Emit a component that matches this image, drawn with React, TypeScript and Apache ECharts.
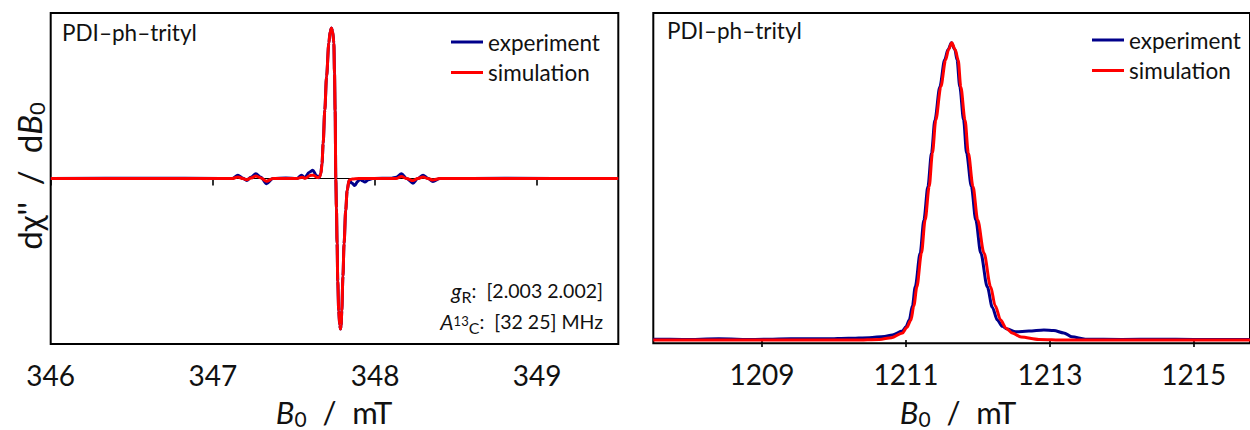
import React, { useEffect, useRef } from "react";
import * as echarts from "echarts";

const FONT = 'Lato, "DejaVu Sans", sans-serif';

const leftTicks = [346, 347, 348, 349];
const rightTicks = [1209, 1211, 1213, 1215];
const seriesNames = ["experiment", "simulation"];
const sampleName = "PDI–ph–trityl";

const leftExperiment: number[][] = [
  [346.0, 0], [346.6, 0.002], [347.05, 0], [347.12, 0], [347.154, 0.022], [347.185, 0.002],
  [347.209, -0.013], [347.234, 0.008], [347.265, 0.031], [347.296, 0.008], [347.331, -0.035],
  [347.37, 0], [347.45, 0.003], [347.518, 0], [347.547, 0.022], [347.567, 0.004], [347.592, 0.04],
  [347.617, 0.055], [347.638, 0.02], [347.653, 0.005], [347.665, 0.03], [347.673, 0.1],
  [347.68, 0.233], [347.69, 0.453], [347.701, 0.676], [347.715, 0.9], [347.723, 0.975],
  [347.731, 1.0], [347.739, 0.975], [347.746, 0.9], [347.75, 0.7], [347.754, 0.45],
  [347.758, 0.0], [347.762, -0.2], [347.766, -0.433], [347.77, -0.68], [347.776, -0.88],
  [347.782, -0.975], [347.787, -1.0], [347.791, -0.975], [347.795, -0.88], [347.802, -0.65],
  [347.809, -0.433], [347.819, -0.213], [347.828, -0.08], [347.84, -0.013], [347.857, -0.03],
  [347.875, -0.047], [347.892, -0.02], [347.906, -0.004], [347.922, -0.015], [347.937, -0.024],
  [347.96, -0.008], [347.986, 0], [348.103, 0.002], [348.13, 0.008], [348.163, 0.031],
  [348.195, 0.0], [348.234, -0.031], [348.263, 0.0], [348.296, 0.022], [348.325, 0.002],
  [348.357, -0.02], [348.399, 0], [348.8, 0.001], [349.5, 0],
];

const leftSimulation: number[][] = [
  [346.0, 0], [347.12, 0], [347.154, 0.01], [347.185, 0.0], [347.209, -0.008], [347.234, 0.003],
  [347.265, 0.016], [347.296, 0.004], [347.331, -0.018], [347.37, 0], [347.518, 0],
  [347.55, 0.008], [347.57, 0.002], [347.6, 0.02], [347.62, 0.022], [347.645, 0.006],
  [347.658, 0.01], [347.667, 0.035], [347.673, 0.1], [347.68, 0.233], [347.69, 0.453],
  [347.701, 0.676], [347.715, 0.9], [347.723, 0.975], [347.731, 1.0], [347.739, 0.975],
  [347.746, 0.9], [347.75, 0.7], [347.754, 0.45], [347.758, 0.0], [347.762, -0.2],
  [347.766, -0.433], [347.77, -0.68], [347.776, -0.88], [347.782, -0.975], [347.787, -1.0],
  [347.791, -0.975], [347.795, -0.88], [347.802, -0.65], [347.809, -0.433], [347.819, -0.213],
  [347.828, -0.08], [347.84, -0.01], [347.86, -0.004], [347.9, 0], [348.13, 0],
  [348.163, 0.014], [348.195, 0], [348.234, -0.014], [348.263, 0], [348.296, 0.01],
  [348.325, 0], [348.357, -0.01], [348.399, 0], [349.5, 0],
];

const rightExperiment: number[][] = [
  [1207.49, 0.003], [1207.9, 0.002], [1208.4, 0.004], [1208.9, 0.002], [1209.4, 0.004],
  [1209.9, 0.004], [1210.2, 0.006], [1210.49, 0.008], [1210.7, 0.012], [1210.81, 0.017],
  [1210.95, 0.03], [1211.0, 0.045], [1211.046, 0.067], [1211.09, 0.115], [1211.129, 0.179],
  [1211.198, 0.293], [1211.249, 0.404], [1211.305, 0.516], [1211.355, 0.629], [1211.402, 0.74],
  [1211.471, 0.852], [1211.537, 0.942], [1211.585, 0.977], [1211.632, 1.0], [1211.68, 0.977],
  [1211.71, 0.942], [1211.748, 0.852], [1211.801, 0.74], [1211.842, 0.629], [1211.909, 0.516],
  [1211.97, 0.404], [1212.039, 0.293], [1212.13, 0.179], [1212.2, 0.11], [1212.269, 0.067],
  [1212.34, 0.046], [1212.403, 0.037], [1212.524, 0.028], [1212.708, 0.03], [1212.916, 0.034],
  [1213.054, 0.032], [1213.193, 0.024], [1213.304, 0.011], [1213.493, 0.003], [1214.0, 0.002],
  [1214.5, 0.003], [1215.0, 0.002], [1215.78, 0.002],
];

const rightSimulation: number[][] = [
  [1207.49, 0], [1210.3, 0], [1210.63, 0.002], [1210.8, 0.008], [1210.953, 0.024],
  [1211.01, 0.042], [1211.069, 0.067], [1211.11, 0.115], [1211.152, 0.179], [1211.216, 0.293],
  [1211.267, 0.404], [1211.323, 0.516], [1211.368, 0.629], [1211.415, 0.74], [1211.485, 0.852],
  [1211.551, 0.942], [1211.592, 0.977], [1211.637, 1.0], [1211.684, 0.977], [1211.726, 0.942],
  [1211.762, 0.852], [1211.821, 0.74], [1211.867, 0.629], [1211.932, 0.516], [1211.997, 0.404],
  [1212.084, 0.293], [1212.177, 0.179], [1212.24, 0.115], [1212.316, 0.067], [1212.39, 0.04],
  [1212.476, 0.024], [1212.6, 0.01], [1212.846, 0.002], [1213.2, 0], [1215.78, 0],
];

const zeroLine: number[][] = [[346, 0], [349.5, 0]];

const BLUE = "#00008b";
const RED = "#ff0000";
const TXT = "#111111";

function xAxisCfg(grid: number, min: number, max: number, ticks: number[]) {
  return {
    type: "value",
    gridIndex: grid,
    min,
    max,
    axisLine: { show: false },
    splitLine: { show: false },
    axisTick: {
      show: true,
      inside: false,
      length: 7,
      lineStyle: { color: "#000", width: 1.6 },
      customValues: ticks,
    },
    axisLabel: {
      customValues: ticks,
      fontSize: 28,
      fontFamily: FONT,
      color: TXT,
      margin: 17,
      formatter: (v: number) => String(v),
    },
  };
}

function legendCfg(left: number, top: number) {
  return {
    data: seriesNames,
    orient: "vertical",
    left,
    top,
    icon: "rect",
    itemWidth: 32,
    itemHeight: 3,
    itemGap: 7.5,
    selectedMode: false,
    textStyle: { fontSize: 22.5, fontFamily: FONT, color: TXT },
  };
}

function lineSeries(name: string, data: number[][], idx: number, color: string, z: number) {
  return {
    name,
    type: "line",
    xAxisIndex: idx,
    yAxisIndex: idx,
    data,
    showSymbol: false,
    symbol: "none",
    smooth: 0.3,
    smoothMonotone: "x",
    z,
    lineStyle: { color, width: 3 },
    itemStyle: { color },
  };
}

const richBase = {
  n: { fontSize: 22.5, fontFamily: FONT, color: TXT, lineHeight: 24 },
};

const richAnno = {
  n: { fontSize: 19.5, fontFamily: FONT, color: TXT, lineHeight: 28 },
  i: { fontSize: 21, fontFamily: FONT, color: TXT, fontStyle: "italic", lineHeight: 28 },
  s: { fontSize: 16, fontFamily: FONT, color: TXT, lineHeight: 16, verticalAlign: "bottom" },
  p: { fontSize: 13, fontFamily: FONT, color: TXT, lineHeight: 24, verticalAlign: "middle" },
};

const richTitle = {
  n: { fontSize: 31, fontFamily: FONT, color: TXT, lineHeight: 34 },
  i: { fontSize: 31, fontFamily: FONT, color: TXT, fontStyle: "italic", lineHeight: 34 },
  s: { fontSize: 21, fontFamily: FONT, color: TXT, lineHeight: 21, verticalAlign: "bottom" },
};

const richYTitle = {
  n: { fontSize: 33, fontFamily: FONT, color: TXT, lineHeight: 36 },
  i: { fontSize: 33, fontFamily: FONT, color: TXT, fontStyle: "italic", lineHeight: 36 },
  s: { fontSize: 22, fontFamily: FONT, color: TXT, lineHeight: 22, verticalAlign: "bottom" },
};

function textEl(x: number, y: number, text: string, align: string, rich: any, rotation = 0) {
  return {
    type: "text",
    x,
    y,
    rotation,
    silent: true,
    style: {
      text,
      align,
      textAlign: align,
      verticalAlign: "middle",
      textVerticalAlign: "middle",
      rich,
      fill: TXT,
      fontSize: 21,
      fontFamily: FONT,
    },
  };
}

export default function App() {
  const ref = useRef<HTMLDivElement>(null);
  useEffect(() => {
    if (!ref.current) return;
    const chart = echarts.init(ref.current, null, { renderer: "svg" });
    const option: any = {
      animation: false,
      backgroundColor: "#ffffff",
      grid: [
        { left: 50.7, top: 13, width: 567.6, height: 331, show: true, borderColor: "#000", borderWidth: 2, backgroundColor: "transparent" },
        { left: 653.3, top: 13, width: 599, height: 330.3, show: true, borderColor: "#000", borderWidth: 2, backgroundColor: "transparent" },
      ],
      xAxis: [xAxisCfg(0, 346, 349.5, leftTicks), xAxisCfg(1, 1207.49, 1215.78, rightTicks)],
      yAxis: [
        { type: "value", gridIndex: 0, min: -1.1, max: 1.1, show: false },
        { type: "value", gridIndex: 1, min: -0.011, max: 1.1, show: false },
      ],
      legend: [legendCfg(446, 25.5), legendCfg(1087, 23.5)],
      series: [
        {
          name: "zero",
          type: "line",
          xAxisIndex: 0,
          yAxisIndex: 0,
          data: zeroLine,
          showSymbol: false,
          symbol: "none",
          silent: true,
          z: 1,
          lineStyle: { color: "#000", width: 1.2 },
        },
        lineSeries(seriesNames[0], leftExperiment, 0, BLUE, 2),
        lineSeries(seriesNames[1], leftSimulation, 0, RED, 3),
        lineSeries(seriesNames[0], rightExperiment, 1, BLUE, 2),
        lineSeries(seriesNames[1], rightSimulation, 1, RED, 3),
      ],
      graphic: [
        textEl(62, 32, `{n|${sampleName}}`, "left", richBase),
        textEl(667, 30, `{n|${sampleName}}`, "left", richBase),
        textEl(603, 290, "{i|g}{s|R}{n|:  [2.003 2.002]}", "right", richAnno),
        textEl(603, 321, "{i|A}{p|13}{s|C}{n|:  [32 25] MHz}", "right", richAnno),
        textEl(334, 412, "{i|B}{s|0}{n|  /  mT}", "center", richTitle),
        textEl(958, 412, "{i|B}{s|0}{n|  /  mT}", "center", richTitle),
        textEl(29, 176, "{n|dχ''  /  d}{i|B}{s|0}", "center", richYTitle, Math.PI / 2),
      ],
    };
    chart.setOption(option);
    return () => chart.dispose();
  }, []);
  return (
    <div
      ref={ref}
      style={{ position: "absolute", left: 0, top: 0, width: 1250, height: 430, background: "#fff" }}
    />
  );
}
